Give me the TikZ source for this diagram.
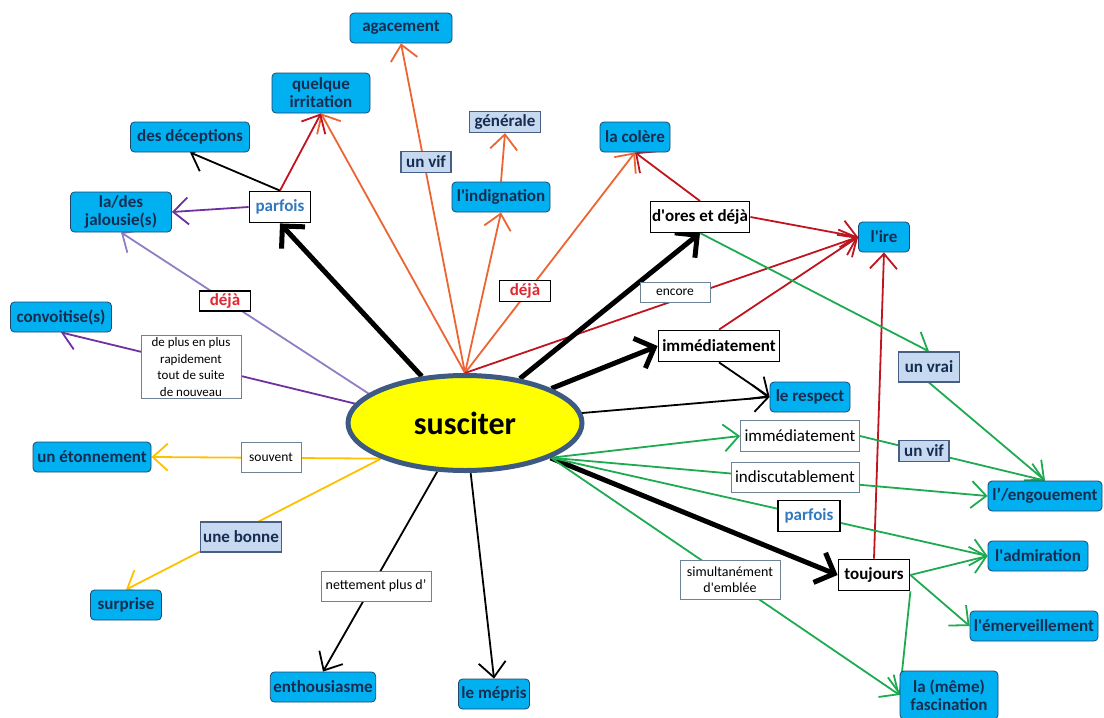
\documentclass[tikz,border=0pt]{standalone}
\usepackage{fontspec}
\setmainfont{Carlito}
\usetikzlibrary{arrows.meta, shapes.geometric, positioning, backgrounds}
\definecolor{EmoBlue}{RGB}{0,176,240}
\definecolor{EmoEdge}{RGB}{30,70,110}
\definecolor{EmoText}{RGB}{23,45,80}
\definecolor{QualFill}{RGB}{198,217,241}
\definecolor{QualEdge}{RGB}{70,95,130}
\definecolor{NoteEdge}{RGB}{110,130,150}
\definecolor{SunYellow}{RGB}{255,255,0}
\definecolor{SunEdge}{RGB}{60,90,130}
\definecolor{FanOrange}{RGB}{236,100,50}
\definecolor{DeepRed}{RGB}{192,20,30}
\definecolor{VioletLine}{RGB}{112,48,160}
\definecolor{LilacLine}{RGB}{145,125,195}
\definecolor{GoldLine}{RGB}{255,192,0}
\definecolor{LeafGreen}{RGB}{30,170,80}
\definecolor{AdvBlue}{RGB}{50,120,190}
\definecolor{AdvRed}{RGB}{225,40,50}
\newcommand{\ap}{\textquotesingle}
\tikzset{
  emo/.style={draw=EmoEdge, fill=EmoBlue, line width=0.8pt, rounded corners=4pt,
    text=EmoText, font=\bfseries\fontsize{17}{18}\selectfont, align=center,
    inner xsep=3pt, inner ysep=2pt, minimum height=30pt},
  qual/.style={draw=QualEdge, fill=QualFill, line width=1.2pt, text=EmoText,
    font=\bfseries\fontsize{17}{18}\selectfont, inner sep=1.5pt, minimum height=21pt},
  adv/.style={draw=black, fill=white, line width=1.8pt,
    font=\bfseries\fontsize{17}{18}\selectfont, minimum height=31pt, inner xsep=2pt, inner ysep=2pt},
  note/.style={draw=NoteEdge, fill=white, line width=0.8pt,
    font=\fontsize{13.5}{16}\selectfont, align=center, minimum height=20pt, inner xsep=3pt, inner ysep=2pt},
  link/.style={-{Straight Barb[length=15pt,width=27pt]}, line width=1.8pt},
  heavy/.style={-{Straight Barb[length=16pt,width=32pt]}, line width=5pt},
}
\begin{document}
\begin{tikzpicture}[x=1pt,y=-1pt]
  \useasboundingbox (0,0) rectangle (1104,718);
  % centre
  \node[ellipse, draw=SunEdge, fill=SunYellow, line width=5pt, minimum width=234pt,
    minimum height=95pt, inner sep=0pt, font=\bfseries\fontsize{32}{34}\selectfont]
    (sus) at (465,423) {susciter};
  % emotions
  \node[emo, minimum width=102pt] (agac) at (401,28) {agacement};
  \node[emo, minimum width=98pt, minimum height=40pt] (irr) at (321,93) {quelque\\irritation};
  \node[emo, minimum width=119pt] (dec) at (190,137) {des déceptions};
  \node[emo, minimum width=101pt, minimum height=40pt] (jal) at (121,212) {la/des\\jalousie(s)};
  \node[emo, minimum width=101pt] (conv) at (61,317) {convoitise(s)};
  \node[emo, minimum width=118pt] (eton) at (92,457) {un étonnement};
  \node[emo, minimum width=71pt] (surp) at (126,605) {surprise};
  \node[emo, minimum width=102pt] (enth) at (323,687) {enthousiasme};
  \node[emo, minimum width=70pt] (mepr) at (494,694) {le mépris};
  \node[emo, minimum width=98pt, minimum height=48pt] (fasc) at (949,695) {la (même)\\fascination};
  \node[emo, minimum width=128pt] (emer) at (1034,626) {l\ap émerveillement};
  \node[emo, minimum width=100pt] (adm) at (1038,556) {l\ap admiration};
  \node[emo, minimum width=114pt] (eng) at (1045,496) {l’/engouement};
  \node[emo, minimum width=80pt] (resp) at (810,397) {le respect};
  \node[emo, minimum width=51pt] (ire) at (884,237) {l\ap ire};
  \node[emo, minimum width=70pt] (colere) at (635,137) {la colère};
  \node[emo, minimum width=98pt] (indig) at (501,197) {l\ap indignation};
  % qualifiers
  \node[qual, minimum width=71pt] (gen) at (505,122) {générale};
  \node[qual, minimum width=50pt] (vif1) at (426,162) {un vif};
  \node[qual, minimum width=61pt, minimum height=30pt] (vrai) at (929,367) {un vrai};
  \node[qual, minimum width=50pt] (vif2) at (924,451) {un vif};
  \node[qual, minimum width=81pt, minimum height=30pt] (bonne) at (241,537) {une bonne};
  % adverbs
  \node[adv, minimum width=61pt, text=AdvBlue] (par1) at (280,207) {parfois};
  \node[adv, minimum width=51pt, minimum height=20pt, inner sep=0.5pt, text=AdvRed] (deja1) at (225,301) {déjà};
  \node[adv, minimum width=51pt, minimum height=21pt, inner sep=0.5pt, text=AdvRed] (deja2) at (525,291) {déjà};
  \node[adv, minimum width=99pt, line width=1pt] (dores) at (700,217) {d\ap ores et déjà};
  \node[adv, minimum width=121pt] (imm1) at (719,346) {immédiatement};
  \node[adv, minimum width=71pt] (tj) at (874,575) {toujours};
  \node[adv, minimum width=62pt, text=AdvBlue] (par2) at (809,516) {parfois};
  % notes
  \node[note, minimum width=70pt] (encore) at (675,292) {encore};
  \node[note, minimum width=100pt, font=\fontsize{13}{16.5}\selectfont] (plus) at (191,367)
    {de plus en plus\\rapidement\\tout de suite\\de nouveau};
  \node[note, minimum width=60pt, minimum height=30pt] (souv) at (271,457) {souvent};
  \node[note, minimum width=110pt, minimum height=30pt, font=\fontsize{14}{16}\selectfont] (nett) at (376,586) {nettement plus d’};
  \node[note, minimum width=100pt, minimum height=39pt, font=\fontsize{14}{16}\selectfont] (simu) at (730,580) {simultanément\\d\ap emblée};
  \node[note, minimum width=119pt, minimum height=31pt, font=\fontsize{17}{18}\selectfont] (imm2) at (800,436) {immédiatement};
  \node[note, minimum width=128pt, minimum height=30pt, font=\fontsize{17}{18}\selectfont] (indis) at (795,477) {indiscutablement};
  \begin{scope}[on background layer]
    % orange fan
    \draw[link, FanOrange] (sus.north) -- (agac.south);
    \draw[link, FanOrange] (sus.north) -- (irr.south);
    \draw[link, FanOrange] (sus.north) -- (indig.south);
    \draw[link, FanOrange] (sus.north) -- (colere.south);
    \draw[link, FanOrange] (indig.north) -- (gen.south);
    % red
    \draw[link, DeepRed] (sus.north) -- (ire.west);
    \draw[link, DeepRed] (par1.north) -- (irr.south);
    \draw[link, DeepRed] (dores.north) -- (colere.south);
    \draw[link, DeepRed] (dores.east) -- (ire.west);
    \draw[link, DeepRed] (imm1.north) -- (ire.west);
    \draw[link, DeepRed] (tj.north) -- (ire.south);
    % purple
    \draw[link, VioletLine] (par1.west) -- (jal.east);
    \draw[link, VioletLine] (sus.170) -- (conv.south);
    \draw[link, LilacLine] (sus.163) -- (jal.south);
    % black
    \draw[link] (par1.north) -- (dec.south);
    \draw[link] (imm1.south) -- (resp.west);
    \draw[link] (sus) -- (resp.west);
    \draw[link] (sus) -- (enth.north);
    \draw[link] (sus) -- (mepr.north);
    \draw[heavy] (sus) -- (par1.south);
    \draw[heavy] (sus) -- (dores.south);
    \draw[heavy] (sus) -- (imm1.west);
    \draw[heavy] (sus) -- (tj.west);
    % yellow
    \draw[link, GoldLine] (sus.203) -- (eton.east);
    \draw[link, GoldLine] (sus.203) -- (surp.north);
    % green
    \draw[link, LeafGreen] (sus.-22) -- (imm2.west);
    \draw[link, LeafGreen] (sus.-22) -- (eng.west);
    \draw[link, LeafGreen] (sus.-22) -- (adm.west);
    \draw[link, LeafGreen] (sus.-22) -- (fasc.west);
    \draw[link, LeafGreen] (imm2.east) -- (eng.north);
    \draw[link, LeafGreen] (dores.south) -- (vrai.north);
    \draw[link, LeafGreen] (vrai.south) -- (eng.north);
    \draw[link, LeafGreen] (tj.east) -- (adm.west);
    \draw[link, LeafGreen] (tj.east) -- (emer.west);
    \draw[link, LeafGreen] (tj.south east) -- (fasc.west);
  \end{scope}
\end{tikzpicture}
\end{document}
